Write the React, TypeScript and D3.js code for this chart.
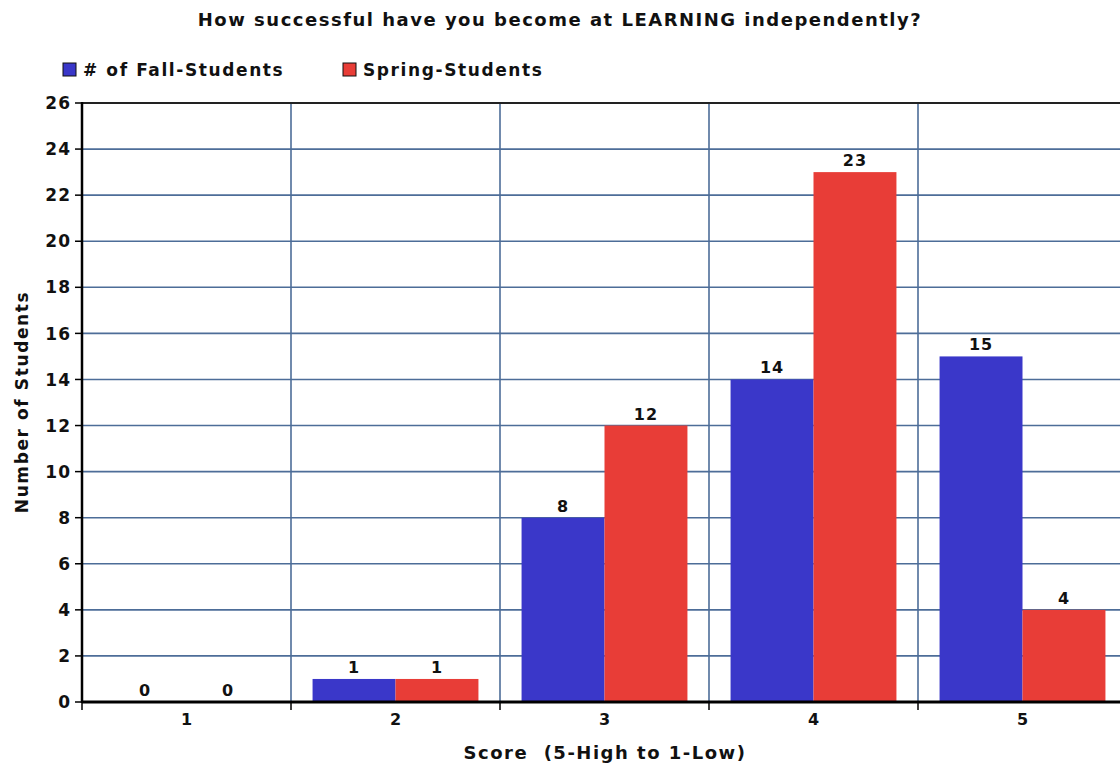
import React, { useEffect, useRef } from 'react'
import * as d3 from 'd3'

const scores = ['1', '2', '3', '4', '5']
const seriesNames = ['# of Fall-Students', 'Spring-Students']
const fallStudents = [0, 1, 8, 14, 15]
const springStudents = [0, 1, 12, 23, 4]
const yTicks = [0, 2, 4, 6, 8, 10, 12, 14, 16, 18, 20, 22, 24, 26]
const seriesColors = ['#3a37c9', '#e83d37']

const FONT = '"DejaVu Sans", Verdana, sans-serif'

const App: React.FC = () => {
  const svgRef = useRef<SVGSVGElement>(null)

  useEffect(() => {
    if (!svgRef.current) return
    const svg = d3.select(svgRef.current)
    svg.selectAll('*').remove()

    const left = 82
    const right = 1127
    const top = 103
    const bottom = 702

    const x = d3.scaleBand<string>().domain(scores).range([left, right]).paddingInner(0).paddingOuter(0)
    const xSub = d3.scaleBand<string>().domain(seriesNames).range([0, x.bandwidth()]).paddingInner(0).paddingOuter(0.26)
    const y = d3.scaleLinear().domain([0, 26]).range([bottom, top])

    // shared text style, wide-ish to mimic the original hand-drawn font
    const label = (sel: d3.Selection<any, any, any, any>, size: number, spacing: number) =>
      sel.attr('font-family', FONT)
        .attr('font-weight', 'bold')
        .attr('font-size', size)
        .attr('letter-spacing', spacing)
        .attr('fill', '#111')

    const g = svg.append('g')

    // horizontal grid
    g.selectAll('line.hgrid')
      .data(yTicks.filter(t => t > 0 && t < 26))
      .join('line')
      .attr('class', 'hgrid')
      .attr('x1', left).attr('x2', right)
      .attr('y1', d => y(d)).attr('y2', d => y(d))
      .attr('stroke', '#4d6d98').attr('stroke-width', 1.6)

    // vertical grid at category boundaries
    const bounds = scores.slice(1).map(s => x(s)!)
    g.selectAll('line.vgrid')
      .data(bounds)
      .join('line')
      .attr('class', 'vgrid')
      .attr('x1', d => d).attr('x2', d => d)
      .attr('y1', top).attr('y2', bottom)
      .attr('stroke', '#4d6d98').attr('stroke-width', 1.6)

    // top frame
    g.append('line')
      .attr('x1', left).attr('x2', right)
      .attr('y1', top).attr('y2', top)
      .attr('stroke', '#222').attr('stroke-width', 2)

    // bars
    const rows = scores.map((s, i) => ({ score: s, values: [fallStudents[i], springStudents[i]] }))
    const groups = g.selectAll('g.grp')
      .data(rows)
      .join('g')
      .attr('class', 'grp')
      .attr('transform', d => `translate(${x(d.score)},0)`)

    groups.selectAll('rect')
      .data(d => d.values.map((v, k) => ({ name: seriesNames[k], v, k })))
      .join('rect')
      .attr('x', d => xSub(d.name)!)
      .attr('width', xSub.bandwidth())
      .attr('y', d => y(d.v))
      .attr('height', d => y(0) - y(d.v))
      .attr('fill', d => seriesColors[d.k])

    groups.selectAll('text')
      .data(d => d.values.map((v, k) => ({ name: seriesNames[k], v, k })))
      .join('text')
      .attr('x', d => xSub(d.name)! + xSub.bandwidth() / 2)
      .attr('y', d => y(d.v) - 6)
      .attr('text-anchor', 'middle')
      .call(label, 16, 1)
      .text(d => String(d.v))

    // axes
    g.append('line')
      .attr('x1', left).attr('x2', right)
      .attr('y1', bottom).attr('y2', bottom)
      .attr('stroke', '#000').attr('stroke-width', 3)
    g.append('line')
      .attr('x1', left).attr('x2', left)
      .attr('y1', top - 1).attr('y2', bottom + 1)
      .attr('stroke', '#000').attr('stroke-width', 2.5)

    // y ticks
    const yt = g.selectAll('g.ytick').data(yTicks).join('g').attr('class', 'ytick')
    yt.append('line')
      .attr('x1', left - 7).attr('x2', left)
      .attr('y1', d => y(d)).attr('y2', d => y(d))
      .attr('stroke', '#000').attr('stroke-width', 1.5)
    yt.append('text')
      .attr('x', left - 11)
      .attr('y', d => y(d))
      .attr('dy', '0.36em')
      .attr('text-anchor', 'end')
      .call(label, 17, 1)
      .text(d => String(d))

    // x ticks
    g.selectAll('line.xtick')
      .data([left, ...bounds])
      .join('line')
      .attr('class', 'xtick')
      .attr('x1', d => d).attr('x2', d => d)
      .attr('y1', bottom).attr('y2', bottom + 8)
      .attr('stroke', '#000').attr('stroke-width', 1.5)

    g.selectAll('text.xlab')
      .data(scores)
      .join('text')
      .attr('class', 'xlab')
      .attr('x', d => x(d)! + x.bandwidth() / 2)
      .attr('y', bottom + 23)
      .attr('text-anchor', 'middle')
      .call(label, 16, 0)
      .text(d => d)

    // axis titles
    svg.append('text')
      .attr('x', 605)
      .attr('y', 759)
      .attr('text-anchor', 'middle')
      .call(label, 18, 1.5)
      .attr('xml:space', 'preserve')
      .text('Score  (5-High to 1-Low)')

    svg.append('text')
      .attr('transform', 'translate(28,402) rotate(-90)')
      .attr('text-anchor', 'middle')
      .call(label, 17, 1.6)
      .text('Number of Students')

    // title
    svg.append('text')
      .attr('x', 560)
      .attr('y', 26)
      .attr('text-anchor', 'middle')
      .call(label, 18, 1.5)
      .text('How successful have you become at LEARNING independently?')

    // legend
    const legendX = [63, 343]
    const lg = svg.selectAll('g.legend')
      .data(seriesNames)
      .join('g')
      .attr('class', 'legend')
      .attr('transform', (d, i) => `translate(${legendX[i]},63)`)
    lg.append('rect')
      .attr('width', 13).attr('height', 13)
      .attr('fill', (d, i) => seriesColors[i])
      .attr('stroke', '#111').attr('stroke-width', 1)
    lg.append('text')
      .attr('x', 20)
      .attr('y', 7)
      .attr('dy', '0.36em')
      .call(label, 17, 1.6)
      .text(d => d)
  }, [])

  return (
    <svg
      ref={svgRef}
      width={1120}
      height={770}
      style={{ position: 'absolute', left: 0, top: 0, background: '#fff' }}
    />
  )
}

export default App
